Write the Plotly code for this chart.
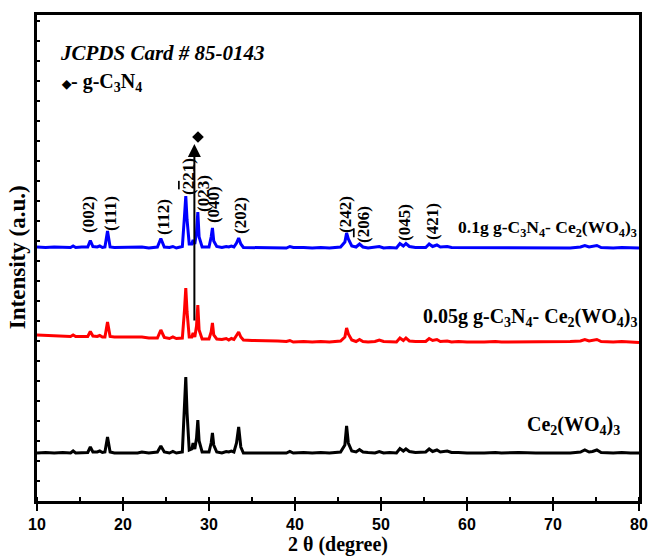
import plotly.graph_objects as go

# ---- data (2theta grid and relative intensities) ----
two_theta = [10, 11, 12, 13, 13.9, 14.2, 14.5, 15.2, 15.9, 16.2,
             16.5, 17.0, 17.3, 17.6, 17.9, 18.2, 18.5, 19, 20, 21,
             21.7, 22.2, 23, 24.0, 24.4, 24.8, 25.4, 25.8, 26.2, 26.9,
             27.15, 27.3, 27.45, 27.7, 28.0, 28.15, 28.35, 28.55, 28.7, 28.85,
             29.2, 30.0, 30.25, 30.4, 30.55, 30.9, 31.5, 32.0, 32.3, 32.6,
             32.9, 33.2, 33.45, 33.7, 34.0, 35, 36, 37, 38, 39,
             39.4, 39.8, 41, 42, 43, 44, 45.3, 45.8, 46.0, 46.2,
             46.6, 47.1, 47.5, 47.9, 48.5, 49.3, 49.8, 50.3, 51, 51.8,
             52.2, 52.6, 52.9, 53.3, 54, 55.2, 55.6, 56.0, 56.5, 56.9,
             57.7, 58.2, 59, 60, 62, 63.3, 64, 66, 68, 70,
             71, 72, 73.2, 73.7, 74.2, 74.6, 75.1, 75.6, 77, 78,
             79, 80]

ce2wo43 = [0, 0.5, 0, 0.5, 0, 2, 0, 0.5, 0.5, 6,
           1, 1, 2, 0.5, 1, 16, 1, 0, 0, 0.5,
           0, 1, 0, 1, 7, 1, 0, 1.5, 0, 1,
           45, 76, 40, 3, 4, 10, 4, 15, 33, 12,
           1, 1, 10, 20, 8, 1, 0, 1.5, 1, 2,
           1, 10, 26, 6, 0, 0, 0.5, 0, 0.5, 0,
           1.5, 0, 0.5, 0, 0.5, 0, 1, 8, 27, 10,
           2, 1, 3.5, 1, 0.5, 0, 1.5, 0, 0.5, 0,
           4.5, 2, 4, 1.5, 0.5, 1, 4, 1.5, 3, 1,
           2, 0.5, 0.5, 0, 0, 0.5, 0, 0.5, 0, 0,
           0.5, 0, 1, 3, 1, 1.5, 3, 0.5, 0, 0.5,
           0, 0]

gcn_005 = [7, 6.5, 6.5, 6, 5.5, 7, 5.5, 5.5, 5.5, 10.5,
           6, 5.5, 6.5, 5, 5, 20, 5.5, 5, 5, 4.5,
           4.5, 5, 4, 4, 12, 4.5, 3.5, 5, 3.5, 4,
           32, 54, 30, 5, 5, 9, 5, 16, 37, 12,
           3, 3, 10, 19, 7, 3, 2.5, 3.5, 2, 3.5,
           2.5, 6, 10, 5, 2, 1.5, 1.5, 1, 1, 0.5,
           1.5, 0, 0.5, 0, 0.5, 0, 1, 5, 14, 8,
           2, 0.5, 2.5, 0.5, 0, 0.5, 2, 0.5, 0, 0,
           4, 1.5, 4, 1, 0.5, 0.5, 3.5, 1.5, 2.5, 0.5,
           1, 0, 0.5, 0, 0, 0.5, 0, 0, 0.5, 0,
           0, 0.5, 1, 2.5, 1, 1.5, 2.5, 0.5, 0, 0.5,
           0, -0.5]

gcn_01 = [1, 0.5, 1, 0.5, 0.5, 2, 0.5, 1, 1, 7.5,
          1.5, 1, 2, 0.5, 1, 17, 1, 0.5, 0.5, 0.5,
          0.5, 1, 0, 1, 9.5, 1, 0.5, 1.5, 0, 1.5,
          32, 52, 28, 4, 4, 8, 4, 16, 36, 11,
          1, 1, 11, 20, 7, 1.5, 0.5, 1.5, 1, 2,
          1, 5, 10, 4, 0.5, 0.5, 0, 0.5, 0, 0,
          1.5, 0.5, 0.5, 0, 0.5, 0, 1, 6, 15, 9,
          2, 1, 4, 1, 0, 0.5, 1.5, 0, 0.5, 0,
          4.5, 2, 4.5, 1.5, 0.5, 0.5, 4, 1.5, 3, 1,
          1.5, 0.5, 0.5, 0, 0.5, 0.5, 0, 0.5, 0, 0,
          0.5, 0, 1, 2.5, 1, 1.5, 2.5, 0.5, 0, 0.5,
          0, 0]

# vertical stacking offsets (a.u.)
offsets = {"ce": 48, "g005": 159, "g01": 253}

OVL = "<span style='text-decoration:overline'>2</span>"
# Miller index labels: text, 2theta, height (a.u.)
hkl_text = ["(002)", "(111)", "(112)", "(" + OVL + "21)", "(023)", "(040)", "(202)",
            "(242)", "(" + OVL + "06)", "(045)", "(421)"]
hkl_x = [15.93, 18.49, 24.65, 27.56, 29.3, 30.47, 33.6, 45.8, 47.9, 52.67, 55.93]
hkl_y = [286, 287, 284, 324, 308, 296, 286, 287, 277, 279, 279]

series_labels = ["0.1g g-C<sub>3</sub>N<sub>4</sub>- Ce<sub>2</sub>(WO<sub>4</sub>)<sub>3</sub>",
                 "0.05g g-C<sub>3</sub>N<sub>4</sub>- Ce<sub>2</sub>(WO<sub>4</sub>)<sub>3</sub>",
                 "Ce<sub>2</sub>(WO<sub>4</sub>)<sub>3</sub>"]
series_label_x = [80, 80, 78.0]
series_label_y = [273, 184, 76]
series_label_size = [17.5, 20, 20]

arrow_x = 28.3
arrow_y0, arrow_y1 = 179, 357
diamond_x, diamond_y = 28.72, 364

serif = "Liberation Serif, Times New Roman, serif"


def sfont(size, weight="bold"):
    return dict(family=serif, size=size, color="black", weight=weight)


fig = go.Figure()
for vals, key, color in [(ce2wo43, "ce", "black"), (gcn_005, "g005", "red"), (gcn_01, "g01", "blue")]:
    fig.add_trace(go.Scatter(x=two_theta, y=[v + offsets[key] for v in vals], mode="lines",
                             line=dict(color=color, width=3), showlegend=False, hoverinfo="skip"))

fig.add_trace(go.Scatter(x=[diamond_x], y=[diamond_y], mode="markers",
                         marker=dict(symbol="diamond", size=9, color="black"), showlegend=False))

ann = []
for t, x, y in zip(hkl_text, hkl_x, hkl_y):
    ann.append(dict(x=x, y=y, xref="x", yref="y", text="<b>" + t + "</b>", showarrow=False,
                    textangle=-90, font=sfont(17)))
for t, x, y, s in zip(series_labels, series_label_x, series_label_y, series_label_size):
    ann.append(dict(x=x, y=y, xref="x", yref="y", text="<b>" + t + "</b>", showarrow=False,
                    xanchor="right", yanchor="middle", font=sfont(s)))

ann.append(dict(x=arrow_x, y=arrow_y1, ax=arrow_x, ay=arrow_y0, xref="x", yref="y",
                axref="x", ayref="y", text="", showarrow=True, arrowhead=2, arrowsize=1.3,
                arrowwidth=2, arrowcolor="black"))
ann.append(dict(x=12.44, y=448, xref="x", yref="y", xanchor="left", showarrow=False,
                text="<b><i>JCPDS Card # 85-0143</i></b>", font=sfont(21)))
ann.append(dict(x=12.5, y=419, xref="x", yref="y", xanchor="left", showarrow=False,
                text="<span style='font-size:12px'>\u25c6</span><b>- g-C<sub>3</sub>N<sub>4</sub></b>",
                font=sfont(20)))
ann.append(dict(x=-0.033, y=0.502, xref="paper", yref="paper", showarrow=False, textangle=-90,
                xanchor="center", yanchor="middle",
                text="<b>Intensity (a.u.)</b>", font=sfont(23)))
ann.append(dict(x=0.5, y=-0.09, xref="paper", yref="paper", showarrow=False,
                yanchor="middle", text="<b>2 \u03b8 (degree)</b>", font=sfont(20)))

fig.update_layout(
    width=650, height=557,
    margin=dict(l=37, r=11, t=15, b=56),
    paper_bgcolor="white", plot_bgcolor="white",
    annotations=ann,
    xaxis=dict(range=[10, 80], dtick=10, showgrid=False, zeroline=False, automargin=False,
               showline=True, linecolor="black", linewidth=3, mirror=True,
               ticks="outside", ticklen=7, tickwidth=2, tickcolor="black",
               minor=dict(ticks="inside", ticklen=4, tickwidth=1.5, dtick=5, tickcolor="black"),
               tickfont=dict(family="Liberation Sans, Arial", size=16, color="black", weight="bold")),
    yaxis=dict(range=[0, 486], showgrid=False, zeroline=False, showticklabels=False, automargin=False,
               showline=True, linecolor="black", linewidth=3, mirror=True,
               ticks="inside", ticklen=3, tickwidth=1.5, dtick=20, tickcolor="black"),
)

fig.write_html("out.html")
